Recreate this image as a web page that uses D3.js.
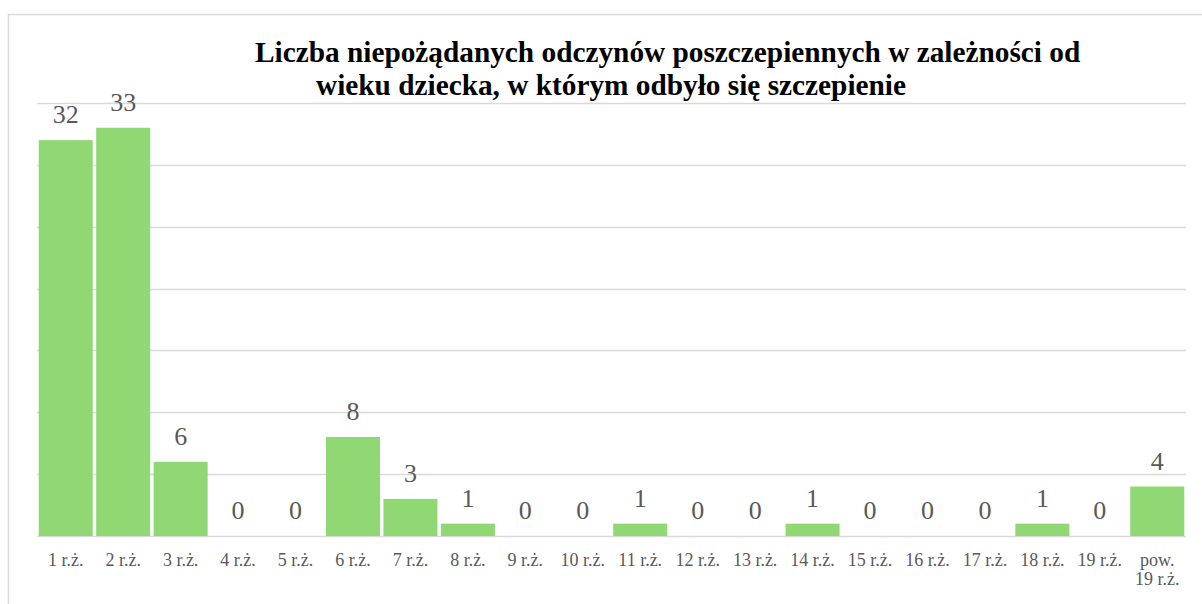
<!DOCTYPE html>
<html>
<head>
<meta charset="utf-8">
<script src="https://cdn.jsdelivr.net/npm/d3@7"></script>
<style>
  html, body { margin: 0; padding: 0; background: #fff; }
  svg { display: block; }
</style>
</head>
<body>
<svg id="chart" width="1202" height="604"></svg>
<script>
// Age groups of the vaccinated child and number of adverse reactions
const categories = ["1 r.ż.", "2 r.ż.", "3 r.ż.", "4 r.ż.", "5 r.ż.", "6 r.ż.", "7 r.ż.", "8 r.ż.", "9 r.ż.", "10 r.ż.",
  "11 r.ż.", "12 r.ż.", "13 r.ż.", "14 r.ż.", "15 r.ż.", "16 r.ż.", "17 r.ż.", "18 r.ż.", "19 r.ż.", "pow.\n19 r.ż."];
const values = [32, 33, 6, 0, 0, 8, 3, 1, 0, 0, 1, 0, 0, 1, 0, 0, 0, 1, 0, 4];
const yTicks = [0, 5, 10, 15, 20, 25, 30, 35];
const titleLines = [
  "Liczba niepożądanych odczynów poszczepiennych w zależności od",
  "wieku dziecka, w którym odbyło się szczepienie"
];

const svg = d3.select("#chart");
const W = 1202, H = 604;
const plot = { left: 37, right: 1186, top: 103, bottom: 536 };
const serif = "'Liberation Serif', 'Times New Roman', serif";

// Outer chart frame
svg.append("rect")
  .attr("x", 8.5).attr("y", 14.5)
  .attr("width", W + 20).attr("height", H + 20)
  .attr("fill", "#fff").attr("stroke", "#d9d9d9").attr("stroke-width", 1.5);

const x = d3.scaleBand()
  .domain(categories)
  .range([plot.left, plot.right])
  .paddingInner(0.06)
  .paddingOuter(0.03);

const y = d3.scaleLinear()
  .domain([0, 35])
  .range([plot.bottom, plot.top]);

// Horizontal gridlines
svg.append("g")
  .selectAll("line")
  .data(yTicks)
  .join("line")
  .attr("x1", plot.left).attr("x2", plot.right)
  .attr("y1", d => Math.round(y(d)) + 0.5)
  .attr("y2", d => Math.round(y(d)) + 0.5)
  .attr("stroke", "#d9d9d9")
  .attr("stroke-width", 1.5);

// Bars
svg.append("g")
  .selectAll("rect")
  .data(values)
  .join("rect")
  .attr("x", (d, i) => x(categories[i]))
  .attr("width", x.bandwidth())
  .attr("y", d => y(d))
  .attr("height", d => y(0) - y(d))
  .attr("fill", "#90d874");

// Value labels
svg.append("g")
  .selectAll("text")
  .data(values)
  .join("text")
  .attr("x", (d, i) => x(categories[i]) + x.bandwidth() / 2)
  .attr("y", d => y(d) - 17)
  .attr("text-anchor", "middle")
  .attr("font-family", serif)
  .attr("font-size", 26)
  .attr("fill", "#595959")
  .text(d => d);

// Category labels (multi-line where the name contains a line break)
const catLabels = svg.append("g")
  .selectAll("text")
  .data(categories)
  .join("text")
  .attr("x", d => x(d) + x.bandwidth() / 2)
  .attr("y", 566)
  .attr("text-anchor", "middle")
  .attr("font-family", serif)
  .attr("font-size", 18)
  .attr("fill", "#595959");
catLabels.each(function (d) {
  const parts = d.split("\n");
  d3.select(this).selectAll("tspan")
    .data(parts)
    .join("tspan")
    .attr("x", x(d) + x.bandwidth() / 2)
    .attr("dy", (p, j) => j === 0 ? 0 : 19)
    .text(p => p);
});

// Title
svg.append("text")
  .attr("font-family", serif)
  .attr("font-weight", "bold")
  .attr("font-size", 29.3)
  .attr("fill", "#000")
  .selectAll("tspan")
  .data(titleLines)
  .join("tspan")
  .attr("x", (d, i) => i === 0 ? 255 : 316)
  .attr("y", (d, i) => i === 0 ? 62 : 95)
  .text(d => d);
</script>
</body>
</html>
